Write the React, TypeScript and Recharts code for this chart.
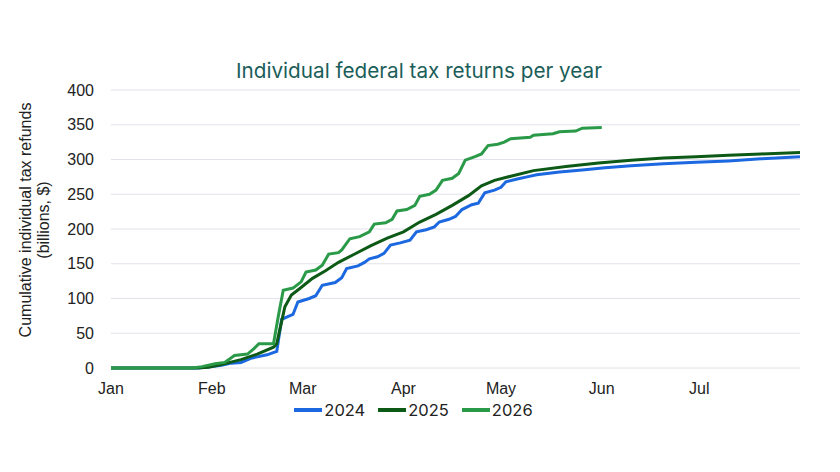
import React from 'react';
import { LineChart, Line, XAxis, YAxis, CartesianGrid, Legend } from 'recharts';

// x values are days since Jan 1
const monthTicks = [0, 31, 59, 90, 120, 151, 181];
const monthNames = ['Jan', 'Feb', 'Mar', 'Apr', 'May', 'Jun', 'Jul'];
const valueTicks = [0, 50, 100, 150, 200, 250, 300, 350, 400];

const days2024 = [0, 27, 31, 34, 37, 40, 43, 45, 48, 51, 52.5, 56, 57.5, 61, 63, 65, 69, 71, 72.5, 76, 78, 79.5, 82, 84, 86, 89, 92, 94, 97, 99.5, 101, 104, 106, 108, 111, 113, 115, 118, 120, 121.5, 125, 128, 131, 138, 145, 152, 160, 170, 180, 190, 200, 212];
const refunds2024 = [0, 0, 2, 4, 7, 8, 14, 16, 19, 24, 70, 77, 95, 100, 104, 119, 123, 130, 143, 147, 152, 157, 160, 165, 177, 180, 184, 196, 199, 203, 210, 214, 218, 228, 235, 237, 252, 256, 260, 268, 272, 275, 278, 282, 285, 288, 291, 294, 296, 298, 301, 304];

const days2025 = [0, 26, 30, 34, 40, 45, 50, 51, 53.5, 55.5, 58, 62, 66, 70, 75, 80, 85, 90, 95, 100, 105, 110, 114, 118, 123, 130, 140, 150, 160, 170, 180, 190, 200, 212];
const refunds2025 = [0, 0, 1, 5, 12, 20, 30, 35, 88, 105, 114, 129, 140, 152, 164, 176, 187, 196, 210, 221, 234, 248, 262, 270, 276, 284, 290, 295, 299, 302, 304, 306, 308, 310];

const days2026 = [0, 25, 28, 32, 35, 38, 42, 44, 45.5, 50, 51.5, 53, 56, 58.5, 60, 63, 65, 67, 70, 71, 73.5, 76.5, 79.5, 81, 84.5, 86.5, 88, 91, 93.5, 95, 98, 100, 102, 105, 107, 109, 112, 114, 116, 119, 121, 123, 129, 130, 136, 138, 143, 145, 151];
const refunds2026 = [0, 0, 2, 6, 8, 18, 20, 28, 35, 35, 75, 112, 115, 124, 138, 141, 148, 164, 166, 170, 186, 189, 196, 207, 209, 214, 226, 228, 234, 247, 250, 256, 270, 273, 280, 299, 304, 308, 320, 322, 325, 330, 332, 335, 337, 340, 341, 345, 346];

const toRows = (days: number[], values: number[]) =>
  days.map((day, i) => ({ day, value: values[i] }));

const series = [
  { name: '2024', color: '#1b68e0', data: toRows(days2024, refunds2024) },
  { name: '2025', color: '#0d5a17', data: toRows(days2025, refunds2025) },
  { name: '2026', color: '#2a9a48', data: toRows(days2026, refunds2026) },
];

const axisFont = '"Liberation Sans", Arial, sans-serif';
const titleFont = 'Inter, "Noto Sans", sans-serif';

const YLabel = () => (
  <g fill="#222" fontFamily={axisFont} fontSize={16}>
    <text x={31} y={220} transform="rotate(-90 31 220)" textAnchor="middle">
      Cumulative individual tax refunds
    </text>
    <text x={49} y={220} transform="rotate(-90 49 220)" textAnchor="middle">
      (billions, $)
    </text>
  </g>
);

const LegendRow = () => (
  <div style={{ width: 840, height: 20, display: 'flex', justifyContent: 'center', alignItems: 'center', fontFamily: titleFont, fontSize: 16.5, color: '#222' }}>
    {series.map(s => (
      <div key={s.name} style={{ display: 'flex', alignItems: 'center', marginRight: 13 }}>
        <div style={{ width: 28, height: 3.5, background: s.color, marginRight: 2 }} />
        <span>{s.name}</span>
      </div>
    ))}
  </div>
);

const App: React.FC = () => (
  <div style={{ position: 'absolute', left: 0, top: 0, width: 840, height: 472, background: '#fff' }}>
    <div style={{ position: 'absolute', top: 59, left: 0, width: 838, textAlign: 'center', fontFamily: titleFont, fontSize: 20.7, lineHeight: '24px', color: '#1b5e59' }}>
      Individual federal tax returns per year
    </div>
    <LineChart width={840} height={472} margin={{ top: 90, right: 40, left: 0, bottom: 52 }}>
      <CartesianGrid vertical={false} stroke="#e2e2ea" strokeWidth={1} />
      <XAxis
        dataKey="day"
        type="number"
        domain={[0, 212]}
        ticks={monthTicks}
        tickFormatter={(d: number) => monthNames[monthTicks.indexOf(d)]}
        axisLine={false}
        tickLine={false}
        tickSize={0}
        tickMargin={15}
        height={32}
        tick={{ fill: '#222', fontSize: 16, fontFamily: axisFont }}
      />
      <YAxis
        type="number"
        domain={[0, 400]}
        ticks={valueTicks}
        width={111}
        axisLine={false}
        tickLine={false}
        tickSize={0}
        tickMargin={17}
        tick={{ fill: '#222', fontSize: 16, fontFamily: axisFont }}
        label={{ content: () => <YLabel /> }}
      />
      <Legend verticalAlign="bottom" wrapperStyle={{ left: 0, width: 840 }} content={() => <LegendRow />} />
      {series.map(s => (
        <Line
          key={s.name}
          name={s.name}
          data={s.data}
          dataKey="value"
          type="linear"
          stroke={s.color}
          strokeWidth={3}
          dot={false}
          activeDot={false}
          isAnimationActive={false}
        />
      ))}
    </LineChart>
  </div>
);

export default App;
